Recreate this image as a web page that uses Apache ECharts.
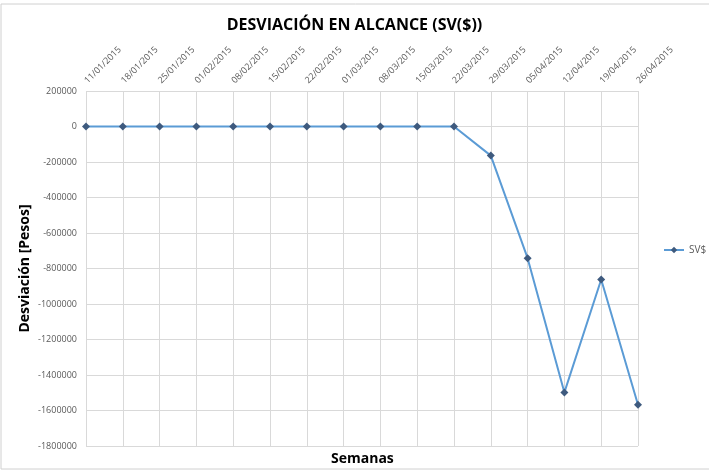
<!DOCTYPE html>
<html>
<head>
<meta charset="utf-8">
<script src="https://cdn.jsdelivr.net/npm/echarts@6/dist/echarts.min.js"></script>
<style>
  html, body { margin: 0; padding: 0; background: #fff; }
  #grafico { width: 709px; height: 470px; }
</style>
</head>
<body>
<div id="grafico"></div>
<script>
// Semanas (eje X)
const semanas = ['11/01/2015', '18/01/2015', '25/01/2015', '01/02/2015', '08/02/2015', '15/02/2015',
    '22/02/2015', '01/03/2015', '08/03/2015', '15/03/2015', '22/03/2015', '29/03/2015',
    '05/04/2015', '12/04/2015', '19/04/2015', '26/04/2015'];
// Desviación SV$ en pesos
const svPesos = [0, 0, 0, 0, 0, 0, 0, 0, 0, 0, 0, -164000, -742000, -1498000, -862000, -1568000];
// Escala del eje Y
const yMin = -1800000;
const yMax = 200000;
const yPaso = 200000;

const grafico = echarts.init(document.getElementById('grafico'));
const fuente = '"Open Sans", "Liberation Sans", sans-serif';

grafico.setOption({
    animation: false,
    textStyle: { fontFamily: fuente },
    graphic: [{
        type: 'rect',
        shape: { x: 1, y: 4, width: 760, height: 465 },
        style: { fill: 'none', stroke: '#d0d0d0', lineWidth: 1 }
    }],
    title: [
        {
            text: 'DESVIACIÓN EN ALCANCE (SV($))',
            left: 'center',
            top: 12,
            textStyle: { fontSize: 16, fontWeight: 'bold', color: '#000', fontFamily: fuente }
        },
        {
            text: 'Semanas',
            left: 326,
            top: 447,
            textStyle: { fontSize: 14, fontWeight: 'bold', color: '#000', fontFamily: fuente }
        }
    ],
    legend: {
        data: ['SV$'],
        left: 663,
        top: 245,
        padding: 0,
        itemWidth: 20,
        itemHeight: 8,
        itemGap: 3,
        textStyle: { fontSize: 10, color: '#595959' }
    },
    grid: { left: 86, right: 71, top: 91, bottom: 24 },
    xAxis: {
        type: 'category',
        position: 'top',
        data: semanas,
        boundaryGap: false,
        axisLine: { show: true, lineStyle: { color: '#d9d9d9' } },
        axisTick: { show: false },
        axisLabel: { rotate: 45, fontSize: 9, color: '#595959', margin: 9, interval: 0 },
        splitLine: { show: true, lineStyle: { color: '#d9d9d9' } }
    },
    yAxis: {
        type: 'value',
        min: yMin,
        max: yMax,
        interval: yPaso,
        name: 'Desviación [Pesos]',
        nameLocation: 'middle',
        nameGap: 54,
        nameMoveOverlap: false,
        nameTextStyle: { fontSize: 14, fontWeight: 'bold', color: '#000' },
        axisLine: { show: false },
        axisTick: { show: false },
        axisLabel: { fontSize: 9, color: '#595959', margin: 9, formatter: v => String(v) },
        splitLine: { show: true, lineStyle: { color: '#d9d9d9' } }
    },
    series: [{
        name: 'SV$',
        type: 'line',
        data: svPesos,
        symbol: 'diamond',
        symbolSize: 8,
        lineStyle: { color: '#5b9bd5', width: 2 },
        itemStyle: { color: '#3e5a7e' }
    }]
});
</script>
</body>
</html>
